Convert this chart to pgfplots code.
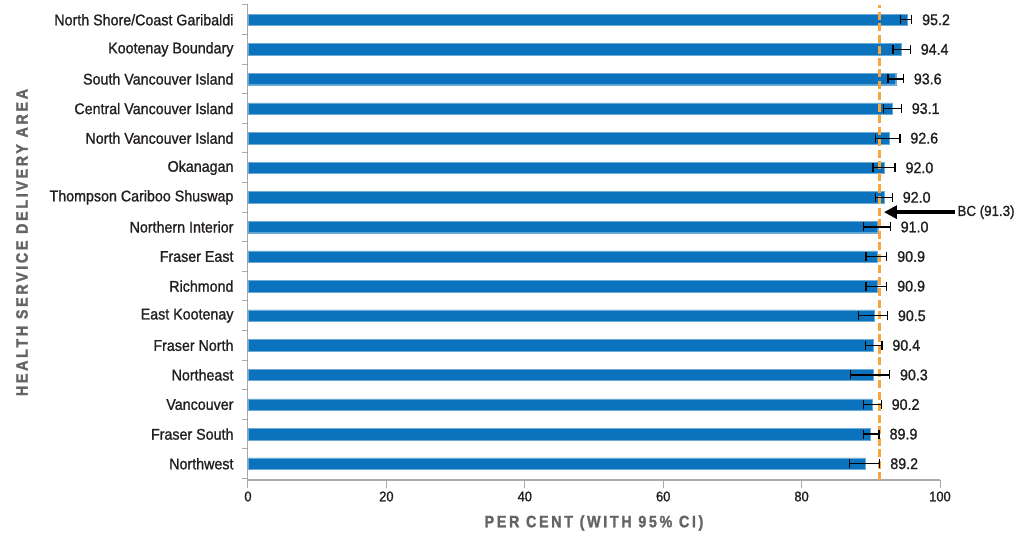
\documentclass[border=0pt]{standalone}
\usepackage{pgfplots}
\pgfplotsset{compat=1.18}
\usepackage{pgfplotstable}
\usetikzlibrary{arrows.meta}
\usepackage{fontspec}
\setmainfont{Liberation Sans}[FakeStretch=0.92, FakeBold=1.2]
\newfontfamily\axlabfont{Liberation Sans}[FakeStretch=0.87, LetterSpace=16, FakeBold=1.5]
\definecolor{barblue}{HTML}{0B73BD}
\definecolor{bcorange}{HTML}{F7A540}
\definecolor{axgray}{HTML}{A7A9AC}
\definecolor{labgray}{HTML}{636466}
\definecolor{txt}{HTML}{231F20}

\pgfplotstableread{
idx val em ep hi
0  89.2 2.3 2.1 91.3
1  89.9 1.0 1.3 91.2
2  90.2 1.3 1.3 91.5
3  90.3 3.2 2.4 92.7
4  90.4 1.2 1.2 91.6
5  90.5 2.3 1.9 92.4
6  90.9 1.6 1.4 92.3
7  90.9 1.6 1.4 92.3
8  91.0 2.1 1.8 92.8
9  92.0 1.3 1.1 93.1
10 92.0 1.7 1.5 93.5
11 92.6 1.9 1.6 94.2
12 93.1 1.3 1.3 94.4
13 93.6 1.1 1.1 94.7
14 94.4 1.2 1.3 95.7
15 95.2 0.9 0.7 95.9
}\datatable

\begin{document}
\begin{tikzpicture}
\begin{axis}[
  scale only axis,
  width=692pt, height=475pt,
  xmin=0, xmax=100,
  ymin=-0.55, ymax=15.5,
  clip=false,
  axis x line*=bottom,
  axis y line*=left,
  axis line style={draw=axgray, line width=1pt},
  x axis line style={line width=1.6pt},
  xtick={0,20,...,100},
  ytick={0,...,15},
  yticklabels={Northwest,Fraser South,Vancouver,Northeast,Fraser North,East Kootenay,Richmond,Fraser East,Northern Interior,Thompson Cariboo Shuswap,Okanagan,North Vancouver Island,Central Vancouver Island,South Vancouver Island,Kootenay Boundary,North Shore/Coast Garibaldi},
  minor ytick={-0.5,0.5,...,15.5},
  tick align=outside,
  major tick length=8pt,
  minor tick length=6pt,
  major y tick style={draw=none},
  minor y tick style={draw=axgray, line width=1pt},
  major x tick style={draw=axgray, line width=1pt},
  /pgf/number format/assume math mode=true,
  yticklabel style={font=\fontsize{15.5}{17}\selectfont, text=txt, xshift=-3pt},
  xticklabel style={font=\fontsize{14}{15}\selectfont, text=txt},
  every axis y label/.style={at={(axis description cs:-0.3266,0.5)}, rotate=90, anchor=center},
  every axis x label/.style={at={(axis description cs:0.5,-0.0905)}, anchor=center},
  xlabel={\axlabfont\bfseries\fontsize{16.5}{18}\selectfont\color{labgray}PER CENT (WITH 95\% CI)},
  ylabel={\axlabfont\bfseries\fontsize{16.5}{18}\selectfont\color{labgray}HEALTH SERVICE DELIVERY AREA},
]
\addplot[xbar, bar width=11.5pt, fill=barblue, draw=barblue!60!white, line width=0.4pt] table[x=val, y=idx] {\datatable};
\addplot[bcorange, line width=2.6pt, dash pattern=on 8pt off 3.5pt, forget plot] coordinates {(91.3,-0.55) (91.3,15.5)};
\addplot[draw=none, mark=none,
  error bars/.cd, x dir=both, x explicit,
  error bar style={black, line width=1.3pt},
  error mark options={black, line width=1.3pt, mark size=4.5pt, rotate=90}]
  table[x=val, y=idx, x error plus=ep, x error minus=em] {\datatable};
\addplot[draw=none, mark=none, nodes near coords, point meta=explicit symbolic,
  every node near coord/.append style={anchor=west, xshift=7pt, text=txt, font=\fontsize{15.5}{17}\selectfont}]
  table[x=hi, y=idx, meta=val] {\datatable};
\draw[-{Triangle[length=13pt,width=13pt]}, line width=3.5pt, black] (axis cs:102.2,8.5) -- (axis cs:91.9,8.5);
\node[anchor=west, text=txt, font=\fontsize{14.5}{16}\selectfont, inner sep=0pt] at (axis cs:102.5,8.5) {BC (91.3)};
\end{axis}
\path (current axis.south west) +(-248pt,-59pt) rectangle +(770pt,480pt);
\end{tikzpicture}
\end{document}
